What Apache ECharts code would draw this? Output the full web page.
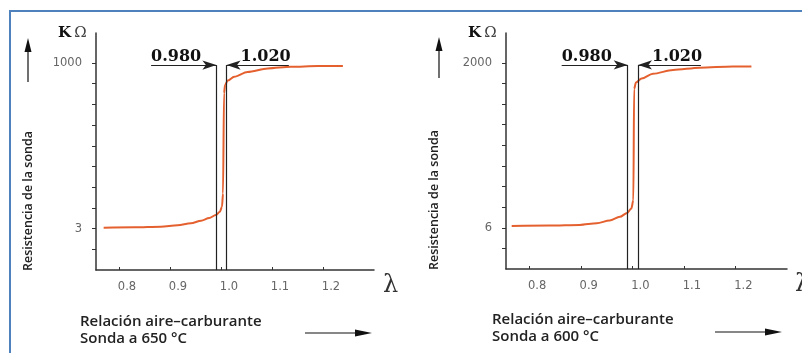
<!DOCTYPE html>
<html>
<head>
<meta charset="utf-8">
<script src="https://cdn.jsdelivr.net/npm/echarts@6/dist/echarts.min.js"></script>
<style>
  html, body { margin: 0; padding: 0; background: #fff; }
  #chart { width: 802px; height: 353px; }
</style>
</head>
<body>
<div id="chart"></div>
<script>
// lambda (relacion aire-carburante) ticks
var lambdaTicks = [0.8, 0.9, 1.0, 1.1, 1.2];
// y axis is a schematic scale: tick positions 1..10, only two are labelled
var yTickPos = [1, 2, 3, 4, 5, 6, 7, 8, 9, 10];
var yLabelPos = [2, 10];
var yLabels650 = ['3', '1000'];
var yLabels600 = ['6', '2000'];

// sonda a 650 °C
var curve650X = [0.770, 0.830, 0.882, 0.915, 0.941, 0.961, 0.977, 0.990, 0.998, 1.002, 1.004, 1.006, 1.008, 1.013, 1.026, 1.052, 1.092, 1.137, 1.190, 1.239];
var curve650Y = [2.04, 2.06, 2.09, 2.16, 2.26, 2.38, 2.51, 2.66, 2.82, 3.06, 3.70, 8.54, 8.94, 9.15, 9.34, 9.57, 9.74, 9.82, 9.85, 9.85];
// sonda a 600 °C
var curve600X = [0.766, 0.840, 0.898, 0.931, 0.956, 0.976, 0.990, 0.998, 1.002, 1.0035, 1.007, 1.018, 1.040, 1.079, 1.131, 1.195, 1.231];
var curve600Y = [2.09, 2.11, 2.14, 2.22, 2.35, 2.53, 2.72, 2.93, 3.33, 8.73, 9.05, 9.24, 9.47, 9.66, 9.77, 9.82, 9.82];

// ventana lambda
var windowX = [0.991, 1.011];
var windowText = ['0.980', '1.020'];

var chart = echarts.init(document.getElementById('chart'));

function pairs(xs, ys) {
    return xs.map(function (x, i) { return [x, ys[i]]; });
}

function xAxisCfg(idx) {
    return {
        type: 'value', gridIndex: idx, min: 0.755, max: 1.30,
        axisLine: { lineStyle: { color: '#333', width: 1.5 } },
        axisTick: { customValues: lambdaTicks, inside: true, length: 3, lineStyle: { color: '#333' } },
        axisLabel: {
            customValues: lambdaTicks, margin: 11, padding: [0, 0, 0, 16],
            color: '#666', fontFamily: 'DejaVu Sans', fontSize: 11.5,
            formatter: function (v) { return v.toFixed(1); }
        },
        splitLine: { show: false }
    };
}

function yAxisCfg(idx, labels) {
    return {
        type: 'value', gridIndex: idx, min: 0, max: 11.45,
        axisLine: { show: true, lineStyle: { color: '#333', width: 1.5 } },
        axisTick: { show: true, customValues: yTickPos, length: 4, lineStyle: { color: '#333' } },
        axisLabel: {
            customValues: yLabelPos, margin: 14,
            color: '#666', fontFamily: 'DejaVu Sans', fontSize: 11.5,
            formatter: function (v) { return labels[yLabelPos.indexOf(Math.round(v))] || ''; }
        },
        splitLine: { show: false }
    };
}

function windowLines(axisTop) {
    var lineStyle = { color: '#222', width: 1.2, type: 'solid' };
    var lbl = { color: '#111', fontFamily: 'DejaVu Serif', fontWeight: 'bold', fontSize: 16 };
    return {
        silent: true, symbol: 'none', animation: false,
        lineStyle: lineStyle,
        label: { show: false },
        data: [
            [{ coord: [windowX[0], axisTop] }, { coord: [windowX[0], 0] }],
            [{ coord: [windowX[1], axisTop] }, { coord: [windowX[1], 0] }],
            [{ coord: [0.863, axisTop], symbol: 'none', label: Object.assign({ show: true, position: 'insideStartTop', formatter: windowText[0], distance: [0, 0] }, lbl) },
             { coord: [windowX[0], axisTop], symbol: 'arrow', symbolSize: [7, 14] }],
            [{ coord: [windowX[1], axisTop], symbol: 'arrow', symbolSize: [7, 14], label: Object.assign({ show: true, position: 'insideStartTop', formatter: windowText[1], distance: [14, 0] }, lbl) },
             { coord: [1.133, axisTop], symbol: 'none' }]
        ]
    };
}

function curveSeries(idx, data) {
    return {
        type: 'line', xAxisIndex: idx, yAxisIndex: idx,
        data: data, showSymbol: false, smooth: 0.3, smoothMonotone: 'x',
        clip: false, z: 3,
        lineStyle: { color: '#e5602f', width: 2 },
        markLine: windowLines(9.9)
    };
}

var nameFont = { fontFamily: 'Open Sans', fontWeight: 600, fontSize: 12.5, fill: '#222' };
var bottomFont = { fontFamily: 'Open Sans', fontWeight: 600, fontSize: 15, fill: '#222', lineHeight: 17 };

function arrowUp(x, top, bottom) {
    return [
        { type: 'line', shape: { x1: x, y1: top + 8, x2: x, y2: bottom }, style: { stroke: '#111', lineWidth: 1.2 } },
        { type: 'polygon', shape: { points: [[x, top], [x - 3.5, top + 14], [x + 3.5, top + 14]] }, style: { fill: '#111' } }
    ];
}
function arrowRight(x1, x2, y) {
    return [
        { type: 'line', shape: { x1: x1, y1: y, x2: x2 - 8, y2: y }, style: { stroke: '#111', lineWidth: 1.2 } },
        { type: 'polygon', shape: { points: [[x2, y], [x2 - 17, y - 3.5], [x2 - 17, y + 3.5]] }, style: { fill: '#111' } }
    ];
}
function ohm(x, y) {
    return {
        type: 'text', x: x, y: y,
        style: {
            text: '{k|K} {o|Ω}',
            rich: {
                k: { fontFamily: 'DejaVu Serif', fontWeight: 'bold', fontSize: 15, fill: '#111' },
                o: { fontFamily: 'DejaVu Serif', fontSize: 15, fill: '#444' }
            }
        }
    };
}

var graphics = [
    { type: 'rect', shape: { x: 10, y: 11, width: 900, height: 400 }, style: { fill: 'none', stroke: '#4f81bd', lineWidth: 2 }, z: 10 },
    ohm(58, 26), ohm(468, 26),
    { type: 'text', x: 28, y: 201, rotation: Math.PI / 2, style: Object.assign({ text: 'Resistencia de la sonda', align: 'center', verticalAlign: 'middle' }, nameFont) },
    { type: 'text', x: 434, y: 200, rotation: Math.PI / 2, style: Object.assign({ text: 'Resistencia de la sonda', align: 'center', verticalAlign: 'middle' }, nameFont) },
    { type: 'text', x: 80, y: 313, style: Object.assign({ text: 'Relación aire–carburante\nSonda a 650 °C' }, bottomFont) },
    { type: 'text', x: 492, y: 311, style: Object.assign({ text: 'Relación aire–carburante\nSonda a 600 °C' }, bottomFont) },
    { type: 'text', x: 383, y: 274, style: { text: 'λ', fontFamily: 'DejaVu Serif', fontSize: 24, fill: '#333' } },
    { type: 'text', x: 795, y: 273, style: { text: 'λ', fontFamily: 'DejaVu Serif', fontSize: 24, fill: '#333' } }
].concat(arrowUp(28, 38, 82), arrowUp(439, 37, 78), arrowRight(305, 372, 333), arrowRight(715, 782, 332));

var option = {
    animation: false,
    backgroundColor: '#fff',
    grid: [
        { left: 96, top: 33, width: 278, height: 237 },
        { left: 506, top: 33, width: 281, height: 236 }
    ],
    xAxis: [xAxisCfg(0), xAxisCfg(1)],
    yAxis: [yAxisCfg(0, yLabels650), yAxisCfg(1, yLabels600)],
    series: [
        curveSeries(0, pairs(curve650X, curve650Y)),
        curveSeries(1, pairs(curve600X, curve600Y))
    ],
    graphic: graphics
};

chart.setOption(option);
</script>
</body>
</html>
